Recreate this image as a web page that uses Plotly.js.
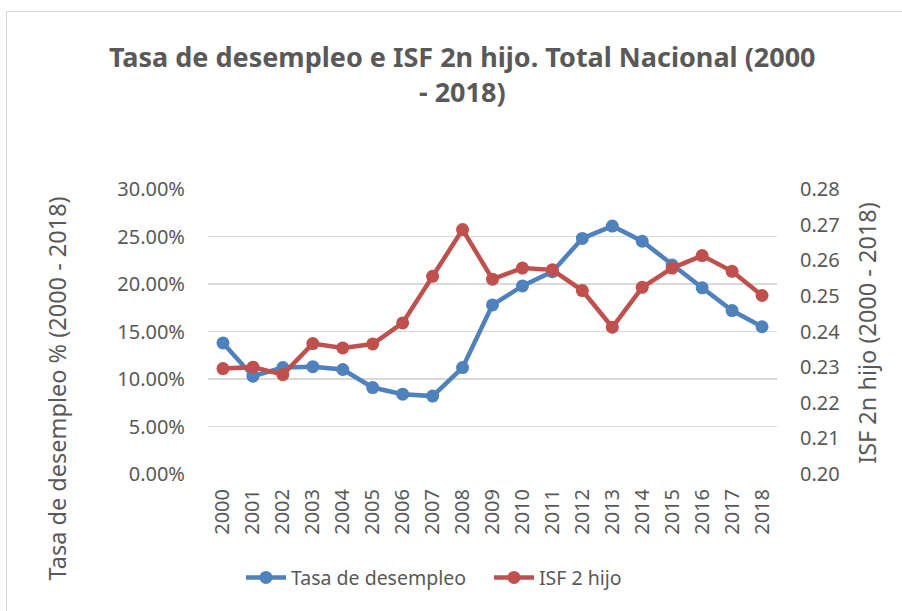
<!DOCTYPE html>
<html>
<head>
<meta charset="utf-8">
<script src="https://cdn.plot.ly/plotly-3.0.1.min.js"></script>
<style>
  html, body { margin: 0; padding: 0; background: #ffffff; overflow: hidden; width: 902px; height: 611px; }
  #frame { position: absolute; left: 6px; top: 11px; width: 1000px; height: 700px; border: 1.5px solid #d9d9d9; box-sizing: border-box; }
  #chart { position: absolute; left: 0; top: 0; width: 902px; height: 611px; }
</style>
</head>
<body>
<div id="frame"></div>
<div id="chart"></div>
<script>
const years = ["2000","2001","2002","2003","2004","2005","2006","2007","2008","2009",
               "2010","2011","2012","2013","2014","2015","2016","2017","2018"];
const tasaDesempleo = [0.138, 0.103, 0.112, 0.113, 0.110, 0.091, 0.084, 0.082, 0.112, 0.178,
                       0.198, 0.213, 0.248, 0.261, 0.245, 0.220, 0.196, 0.172, 0.155];
const isf2Hijo = [0.2296, 0.2300, 0.2279, 0.2366, 0.2354, 0.2365, 0.2424, 0.2555, 0.2686, 0.2547,
                  0.2578, 0.2573, 0.2515, 0.2412, 0.2524, 0.2578, 0.2613, 0.2569, 0.2501];

const FONT = '"Noto Sans", "Open Sans", sans-serif';
const GREY = '#595959';

const traces = [
  {
    x: years, y: tasaDesempleo, name: 'Tasa de desempleo', type: 'scatter', mode: 'lines+markers',
    line: { color: '#4F81BD', width: 4.5 }, marker: { color: '#4F81BD', size: 13 },
    yaxis: 'y'
  },
  {
    x: years, y: isf2Hijo, name: 'ISF 2 hijo', type: 'scatter', mode: 'lines+markers',
    line: { color: '#C0504D', width: 4.5 }, marker: { color: '#C0504D', size: 13 },
    yaxis: 'y2'
  }
];

const layout = {
  width: 902, height: 611,
  margin: { l: 208, r: 125, t: 189, b: 137 },
  paper_bgcolor: 'rgba(0,0,0,0)', plot_bgcolor: 'rgba(0,0,0,0)',
  font: { family: FONT, color: GREY, size: 20 },
  title: {
    text: '<b>Tasa de desempleo e ISF 2n hijo. Total Nacional (2000<br>- 2018)</b>',
    font: { family: FONT, size: 27, color: GREY },
    x: 0.5125, xanchor: 'center', yref: 'container', y: 0.890, yanchor: 'top'
  },
  xaxis: {
    type: 'category', range: [-0.5, 18.5], tickangle: -90,
    showgrid: false, showline: false, zeroline: false, ticks: '',
    tickfont: { size: 20, color: GREY }, ticklabelstandoff: 10
  },
  yaxis: {
    range: [0, 0.30], dtick: 0.05, tickformat: '.2%',
    showgrid: true, gridcolor: '#d9d9d9', gridwidth: 1.5, zeroline: false, showline: false,
    tickfont: { size: 20, color: GREY }, ticklabelstandoff: 22
  },
  yaxis2: {
    range: [0.20, 0.28], dtick: 0.01, tickformat: '.2f', overlaying: 'y', side: 'right',
    showgrid: false, zeroline: false, showline: false,
    tickfont: { size: 20, color: GREY }, ticklabelstandoff: 22
  },
  legend: {
    orientation: 'h', x: 0.058, xanchor: 'left', y: -0.364, yanchor: 'middle',
    font: { size: 19.5, color: GREY }, itemwidth: 40, traceorder: 'normal', entrywidth: 193
  },
  annotations: [
    {
      text: 'Tasa de desempleo % (2000 - 2018)', xref: 'paper', yref: 'paper',
      x: -0.265, y: 0.301, xanchor: 'center', yanchor: 'middle', textangle: -90,
      showarrow: false, font: { size: 23.5, color: GREY }
    },
    {
      text: 'ISF 2n hijo (2000 - 2018)', xref: 'paper', yref: 'paper',
      x: 1.158, y: 0.495, xanchor: 'center', yanchor: 'middle', textangle: -90,
      showarrow: false, font: { size: 23.5, color: GREY }
    }
  ],
  showlegend: true
};

Plotly.newPlot('chart', traces, layout, { displayModeBar: false, staticPlot: true });
</script>
</body>
</html>
